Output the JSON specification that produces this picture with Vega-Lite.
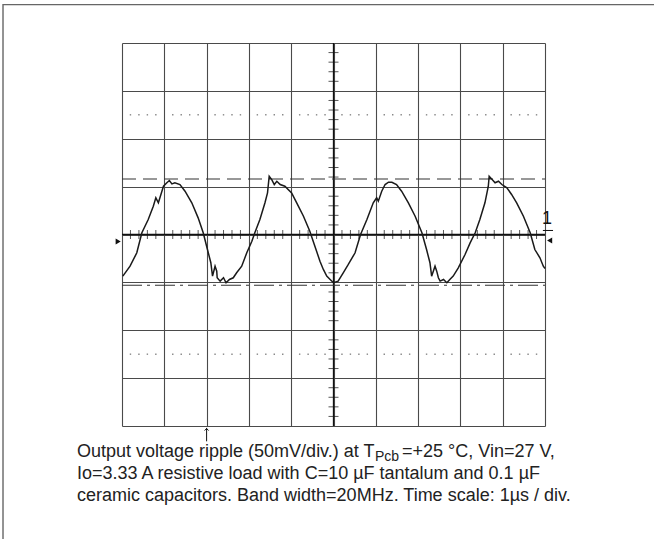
{
  "$schema": "https://vega.github.io/schema/vega-lite/v6.json",
  "width": 423,
  "height": 383,
  "autosize": {"type": "none"},
  "padding": {"left": 122, "top": 43, "right": 109, "bottom": 113},
  "background": "white",
  "config": {"view": {"stroke": null}, "font": "Liberation Sans"},
  "data": {"values": [{}]},
  "datasets": {
    "wave": [
      {"t": 0.02, "v": -43.5}, {"t": 0.19, "v": -33.1}, {"t": 0.35, "v": -19.1}, {"t": 0.47, "v": 1.8},
      {"t": 0.62, "v": 15.7}, {"t": 0.74, "v": 29.5}, {"t": 0.80, "v": 38.3}, {"t": 0.86, "v": 33.1},
      {"t": 0.92, "v": 41.8}, {"t": 0.98, "v": 50.4}, {"t": 1.06, "v": 54.0}, {"t": 1.12, "v": 56.4},
      {"t": 1.18, "v": 52.9}, {"t": 1.25, "v": 54.0}, {"t": 1.37, "v": 52.2}, {"t": 1.49, "v": 45.2},
      {"t": 1.65, "v": 33.1}, {"t": 1.80, "v": 17.4}, {"t": 1.92, "v": 1.8}, {"t": 2.02, "v": -15.7},
      {"t": 2.10, "v": -29.5}, {"t": 2.14, "v": -43.5}, {"t": 2.20, "v": -33.1}, {"t": 2.24, "v": -38.3},
      {"t": 2.25, "v": -45.2}, {"t": 2.32, "v": -48.7}, {"t": 2.40, "v": -45.2}, {"t": 2.46, "v": -50.4},
      {"t": 2.54, "v": -47.0}, {"t": 2.63, "v": -45.2}, {"t": 2.71, "v": -40.0}, {"t": 2.83, "v": -33.1},
      {"t": 2.95, "v": -19.1}, {"t": 3.07, "v": -7.0}, {"t": 3.14, "v": 1.8}, {"t": 3.26, "v": 15.7},
      {"t": 3.38, "v": 33.1}, {"t": 3.44, "v": 43.5}, {"t": 3.48, "v": 60.9}, {"t": 3.54, "v": 57.4},
      {"t": 3.60, "v": 52.2}, {"t": 3.66, "v": 55.6}, {"t": 3.74, "v": 52.2}, {"t": 3.85, "v": 50.4},
      {"t": 4.01, "v": 43.5}, {"t": 4.13, "v": 33.1}, {"t": 4.29, "v": 19.1}, {"t": 4.44, "v": 3.4},
      {"t": 4.56, "v": -12.2}, {"t": 4.68, "v": -27.9}, {"t": 4.76, "v": -36.5}, {"t": 4.84, "v": -43.5},
      {"t": 4.92, "v": -47.0}, {"t": 5.00, "v": -50.4}, {"t": 5.11, "v": -48.7}, {"t": 5.23, "v": -40.0},
      {"t": 5.35, "v": -31.3}, {"t": 5.51, "v": -19.1}, {"t": 5.64, "v": 0.0}, {"t": 5.79, "v": 15.7},
      {"t": 5.94, "v": 33.1}, {"t": 6.02, "v": 38.3}, {"t": 6.06, "v": 34.8}, {"t": 6.14, "v": 45.2},
      {"t": 6.22, "v": 52.2}, {"t": 6.30, "v": 54.6}, {"t": 6.38, "v": 54.6}, {"t": 6.49, "v": 52.2},
      {"t": 6.61, "v": 45.2}, {"t": 6.77, "v": 33.1}, {"t": 6.93, "v": 19.1}, {"t": 7.09, "v": 1.8},
      {"t": 7.20, "v": -15.7}, {"t": 7.28, "v": -29.5}, {"t": 7.32, "v": -43.5}, {"t": 7.40, "v": -33.1},
      {"t": 7.44, "v": -38.3}, {"t": 7.48, "v": -45.2}, {"t": 7.52, "v": -48.7}, {"t": 7.60, "v": -47.0},
      {"t": 7.68, "v": -50.4}, {"t": 7.75, "v": -47.0}, {"t": 7.83, "v": -43.5}, {"t": 7.95, "v": -34.8},
      {"t": 8.11, "v": -20.9}, {"t": 8.23, "v": -8.7}, {"t": 8.35, "v": 1.8}, {"t": 8.46, "v": 15.7},
      {"t": 8.58, "v": 33.1}, {"t": 8.66, "v": 50.4}, {"t": 8.68, "v": 60.9}, {"t": 8.75, "v": 57.4},
      {"t": 8.82, "v": 54.0}, {"t": 8.90, "v": 55.6}, {"t": 8.98, "v": 52.2}, {"t": 9.10, "v": 48.7},
      {"t": 9.21, "v": 41.8}, {"t": 9.33, "v": 33.1}, {"t": 9.49, "v": 19.1}, {"t": 9.65, "v": 1.8},
      {"t": 9.76, "v": -15.7}, {"t": 9.88, "v": -24.3}, {"t": 9.96, "v": -33.1}, {"t": 10.0, "v": -35.5}
    ],
    "hminor": [
      {"t": 0.2}, {"t": 0.4}, {"t": 0.6}, {"t": 0.8}, {"t": 1.2}, {"t": 1.4}, {"t": 1.6}, {"t": 1.8},
      {"t": 2.2}, {"t": 2.4}, {"t": 2.6}, {"t": 2.8}, {"t": 3.2}, {"t": 3.4}, {"t": 3.6}, {"t": 3.8},
      {"t": 4.2}, {"t": 4.4}, {"t": 4.6}, {"t": 4.8}, {"t": 5.2}, {"t": 5.4}, {"t": 5.6}, {"t": 5.8},
      {"t": 6.2}, {"t": 6.4}, {"t": 6.6}, {"t": 6.8}, {"t": 7.2}, {"t": 7.4}, {"t": 7.6}, {"t": 7.8},
      {"t": 8.2}, {"t": 8.4}, {"t": 8.6}, {"t": 8.8}, {"t": 9.2}, {"t": 9.4}, {"t": 9.6}, {"t": 9.8}
    ],
    "vminor": [
      {"v": -190}, {"v": -180}, {"v": -170}, {"v": -160}, {"v": -140}, {"v": -130}, {"v": -120}, {"v": -110},
      {"v": -90}, {"v": -80}, {"v": -70}, {"v": -60}, {"v": -40}, {"v": -30}, {"v": -20}, {"v": -10},
      {"v": 10}, {"v": 20}, {"v": 30}, {"v": 40}, {"v": 60}, {"v": 70}, {"v": 80}, {"v": 90},
      {"v": 110}, {"v": 120}, {"v": 130}, {"v": 140}, {"v": 160}, {"v": 170}, {"v": 180}, {"v": 190}
    ]
  },
  "layer": [
    {
      "mark": {"type": "rect", "filled": false, "stroke": "#666", "strokeWidth": 1.4},
      "encoding": {
        "x": {"datum": -2.813, "type": "quantitative",
          "scale": {"domain": [0, 10], "nice": false, "zero": false},
          "axis": {"values": [0,1,2,3,4,5,6,7,8,9,10], "grid": true, "gridColor": "#4a4a4a", "gridWidth": 1.1, "labels": false, "ticks": false, "domain": false, "title": null}},
        "x2": {"datum": 12.8},
        "y": {"datum": 240.1, "type": "quantitative",
          "scale": {"domain": [-200, 200], "nice": false, "zero": false},
          "axis": {"values": [-200,-150,-100,-50,0,50,100,150,200], "grid": true, "gridColor": "#4a4a4a", "gridWidth": 1.1, "labels": false, "ticks": false, "domain": false, "title": null}},
        "y2": {"datum": -330}
      }
    },
    {
      "data": {"name": "hminor"},
      "mark": {"type": "square", "size": 2, "color": "#888", "opacity": 1},
      "encoding": {"x": {"field": "t", "type": "quantitative"}, "y": {"datum": 125}}
    },
    {
      "data": {"name": "hminor"},
      "mark": {"type": "square", "size": 2, "color": "#888", "opacity": 1},
      "encoding": {"x": {"field": "t", "type": "quantitative"}, "y": {"datum": -125}}
    },
    {
      "mark": {"type": "rule", "color": "#111", "strokeWidth": 1.3},
      "encoding": {"x": {"datum": 5}, "y": {"datum": -200}, "y2": {"datum": 200}}
    },
    {
      "mark": {"type": "rule", "color": "#111", "strokeWidth": 1.3},
      "encoding": {"y": {"datum": 0}, "x": {"datum": 0}, "x2": {"datum": 10}}
    },
    {
      "data": {"name": "hminor"},
      "mark": {"type": "tick", "orient": "vertical", "size": 9, "thickness": 1, "color": "#111"},
      "encoding": {"x": {"field": "t", "type": "quantitative"}, "y": {"datum": 0}}
    },
    {
      "data": {"name": "vminor"},
      "mark": {"type": "tick", "orient": "horizontal", "size": 10, "thickness": 1, "color": "#111"},
      "encoding": {"y": {"field": "v", "type": "quantitative"}, "x": {"datum": 5}}
    },
    {
      "mark": {"type": "rule", "color": "#333", "strokeWidth": 1.1, "strokeDash": [14, 7]},
      "encoding": {"y": {"datum": 58}, "x": {"datum": 0}, "x2": {"datum": 10}}
    },
    {
      "mark": {"type": "rule", "color": "#333", "strokeWidth": 1.1, "strokeDash": [20, 5, 3, 5]},
      "encoding": {"y": {"datum": -53}, "x": {"datum": 0}, "x2": {"datum": 10}}
    },
    {
      "data": {"name": "wave"},
      "mark": {"type": "line", "color": "#1a1a1a", "strokeWidth": 1.5},
      "encoding": {"x": {"field": "t", "type": "quantitative"}, "y": {"field": "v", "type": "quantitative"}}
    },
    {
      "mark": {"type": "point", "shape": "triangle-right", "filled": true, "color": "#111", "size": 35, "opacity": 1},
      "encoding": {"x": {"datum": -0.09}, "y": {"datum": -7.3}}
    },
    {
      "mark": {"type": "point", "shape": "triangle-left", "filled": true, "color": "#111", "size": 35, "opacity": 1},
      "encoding": {"x": {"datum": 10.11}, "y": {"datum": -6.3}}
    },
    {
      "mark": {"type": "text", "text": "1", "fontSize": 18, "align": "center", "baseline": "middle", "color": "#111"},
      "encoding": {"x": {"datum": 10.05}, "y": {"datum": 16}}
    },
    {
      "mark": {"type": "rule", "color": "#111", "strokeWidth": 1},
      "encoding": {"y": {"datum": 4.2}, "x": {"datum": 9.95}, "x2": {"datum": 10.19}}
    },
    {
      "mark": {"type": "rule", "color": "#111", "strokeWidth": 1},
      "encoding": {"x": {"datum": 2}, "y": {"datum": -202}, "y2": {"datum": -216}}
    },
    {
      "mark": {"type": "point", "shape": "M-1,0.6L0,-0.4L1,0.6", "filled": false, "color": "#111", "strokeWidth": 1, "size": 16, "opacity": 1},
      "encoding": {"x": {"datum": 2}, "y": {"datum": -203.5}}
    },
    {
      "mark": {"type": "text", "text": "Output voltage ripple (50mV/div.) at T", "fontSize": 18, "align": "left", "baseline": "alphabetic", "color": "#222"},
      "encoding": {"x": {"datum": -1.064}, "y": {"datum": -232.8}}
    },
    {
      "mark": {"type": "text", "text": "Pcb", "fontSize": 14, "align": "left", "baseline": "alphabetic", "color": "#222"},
      "encoding": {"x": {"datum": 5.98}, "y": {"datum": -237}}
    },
    {
      "mark": {"type": "text", "text": "=+25 °C, Vin=27 V,", "fontSize": 18, "align": "left", "baseline": "alphabetic", "color": "#222"},
      "encoding": {"x": {"datum": 6.62}, "y": {"datum": -232.8}}
    },
    {
      "mark": {"type": "text", "text": "Io=3.33 A resistive load with C=10 µF tantalum and 0.1 µF", "fontSize": 18, "align": "left", "baseline": "alphabetic", "color": "#222"},
      "encoding": {"x": {"datum": -1.064}, "y": {"datum": -255.7}}
    },
    {
      "mark": {"type": "text", "text": "ceramic capacitors. Band width=20MHz. Time scale: 1µs / div.", "fontSize": 18, "align": "left", "baseline": "alphabetic", "color": "#222"},
      "encoding": {"x": {"datum": -1.064}, "y": {"datum": -278.7}}
    }
  ]
}
